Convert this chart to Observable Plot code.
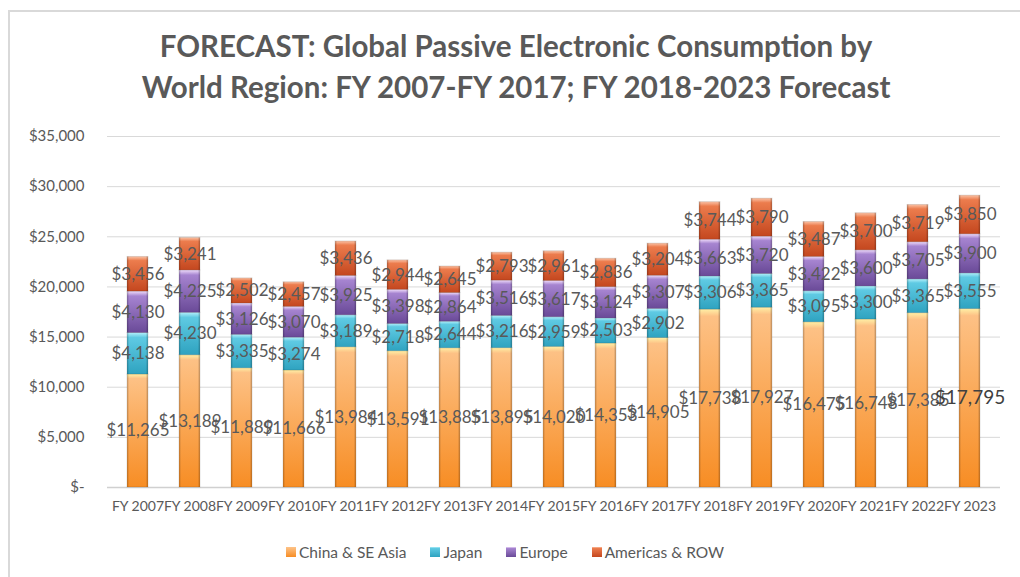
<!DOCTYPE html>
<html><head><meta charset="utf-8">
<script src="https://cdn.jsdelivr.net/npm/d3@7"></script>
<script src="https://cdn.jsdelivr.net/npm/@observablehq/plot@0.6"></script>
<style>
body{margin:0;background:#fff;font-family:Lato,"Open Sans",sans-serif;}
#wrap{position:relative;width:1020px;height:577px;overflow:hidden;background:#fff;}
#frame{position:absolute;left:8px;top:10px;width:1100px;height:700px;border-left:2px solid #d9d9d9;border-top:2px solid #d9d9d9;}
#title{position:absolute;left:0;top:25px;width:1032px;text-align:center;font-weight:bold;font-size:29.5px;line-height:41px;color:#595959;}
#chart{position:absolute;left:0;top:118px;}
#legend{position:absolute;left:0;top:542px;width:1010px;display:flex;justify-content:center;gap:24px;font-size:15.5px;line-height:20px;color:#595959;}
#legend span.item{display:flex;align-items:center;}
</style>
</head><body>
<svg width="0" height="0" style="position:absolute">
  <defs>
    <linearGradient id="gChina" x1="0" y1="0" x2="0" y2="1">
      <stop offset="0" stop-color="#FFF0A6"/><stop offset="0.04" stop-color="#FDC185"/><stop offset="1" stop-color="#F78D24"/>
    </linearGradient>
    <linearGradient id="gJapan" x1="0" y1="0" x2="0" y2="1">
      <stop offset="0" stop-color="#B4F0FA"/><stop offset="0.12" stop-color="#5FCAE3"/><stop offset="1" stop-color="#2FA3C0"/>
    </linearGradient>
    <linearGradient id="gEurope" x1="0" y1="0" x2="0" y2="1">
      <stop offset="0" stop-color="#F0DDFB"/><stop offset="0.12" stop-color="#A684D0"/><stop offset="1" stop-color="#6A4A98"/>
    </linearGradient>
    <linearGradient id="gAmericas" x1="0" y1="0" x2="0" y2="1">
      <stop offset="0" stop-color="#FBC3A6"/><stop offset="0.12" stop-color="#EC7C4D"/><stop offset="1" stop-color="#C4471F"/>
    </linearGradient>
    <linearGradient id="gSide" x1="0" y1="0" x2="1" y2="0">
      <stop offset="0" stop-color="#000" stop-opacity="0.18"/><stop offset="0.12" stop-color="#000" stop-opacity="0"/>
      <stop offset="0.88" stop-color="#000" stop-opacity="0"/><stop offset="1" stop-color="#000" stop-opacity="0.2"/>
    </linearGradient>
  </defs>
</svg>
<div id="wrap">
  <div id="frame"></div>
  <div id="title">FORECAST: Global Passive Electronic Consumption by<br>World Region: FY 2007-FY 2017; FY 2018-2023 Forecast</div>
  <div id="chart"></div>
  <div id="legend"></div>
</div>
<script>
const years = ["FY 2007","FY 2008","FY 2009","FY 2010","FY 2011","FY 2012","FY 2013","FY 2014","FY 2015","FY 2016","FY 2017","FY 2018","FY 2019","FY 2020","FY 2021","FY 2022","FY 2023"];
const regions = ["China & SE Asia","Japan","Europe","Americas & ROW"];
const china    = [11265,13189,11889,11666,13984,13591,13885,13895,14020,14353,14905,17738,17927,16475,16748,17385,17795];
const japan    = [4138,4230,3335,3274,3189,2718,2644,3216,2959,2503,2902,3306,3365,3095,3300,3365,3555];
const europe   = [4130,4225,3126,3070,3925,3398,2864,3516,3617,3124,3307,3663,3720,3422,3600,3705,3900];
const americas = [3456,3241,2502,2457,3436,2944,2645,2793,2961,2836,3204,3744,3790,3487,3700,3719,3850];
const yTicks = [0,5000,10000,15000,20000,25000,30000,35000];
const fills = ["url(#gChina)","url(#gJapan)","url(#gEurope)","url(#gAmericas)"];

const series = [china, japan, europe, americas];
const data = [];
regions.forEach((r, i) => years.forEach((y, j) => data.push({year: y, region: r, value: series[i][j]})));

const fmt = d3.format("$,");
const plot = Plot.plot({
  width: 1020,
  height: 412,
  marginTop: 18,
  marginBottom: 43,
  marginLeft: 107,
  marginRight: 20,
  style: {fontFamily: "Lato, 'Open Sans', sans-serif", color: "#595959", background: "none"},
  x: {domain: years, paddingInner: 0.6, paddingOuter: 0.3, label: null},
  y: {domain: [0, 35000], label: null},
  color: {domain: regions, range: fills, type: "ordinal"},
  marks: [
    Plot.gridY(yTicks, {stroke: "#d9d9d9", strokeOpacity: 1}),
    Plot.ruleY([0], {stroke: "#d0d0d0", strokeWidth: 1.5}),
    Plot.axisY(yTicks, {tickSize: 0, tickPadding: 23, fontSize: 15, tickFormat: d => d === 0 ? "$-" : fmt(d), label: null}),
    Plot.axisX({tickSize: 0, tickPadding: 14, fontSize: 14, label: null}),
    Plot.barY(data, Plot.stackY({x: "year", y: "value", fill: "region", stroke: "#000", strokeOpacity: 0.12, strokeWidth: 1})),
    Plot.barY(data, Plot.stackY({x: "year", y: "value", z: "region", fill: "url(#gSide)"})),
    Plot.text(data, Plot.stackY({
      x: "year", y: "value", z: "region",
      text: d => fmt(d.value),
      fill: d => (d.year === "FY 2023" && d.region === "China & SE Asia") ? "#404040" : "#595959",
      fontSize: d => (d.year === "FY 2023" && d.region === "China & SE Asia") ? 19 : 17
    }))
  ]
});
document.getElementById("chart").appendChild(plot);

const legend = document.getElementById("legend");
regions.forEach((r, i) => {
  const item = document.createElement("span");
  item.className = "item";
  const sw = document.createElementNS("http://www.w3.org/2000/svg", "svg");
  sw.setAttribute("width", 10); sw.setAttribute("height", 10);
  sw.style.marginRight = "3px";
  const rect = document.createElementNS("http://www.w3.org/2000/svg", "rect");
  rect.setAttribute("width", 10); rect.setAttribute("height", 10);
  rect.setAttribute("fill", fills[i]);
  sw.appendChild(rect);
  item.appendChild(sw);
  item.appendChild(document.createTextNode(r));
  legend.appendChild(item);
});
</script>
</body></html>
